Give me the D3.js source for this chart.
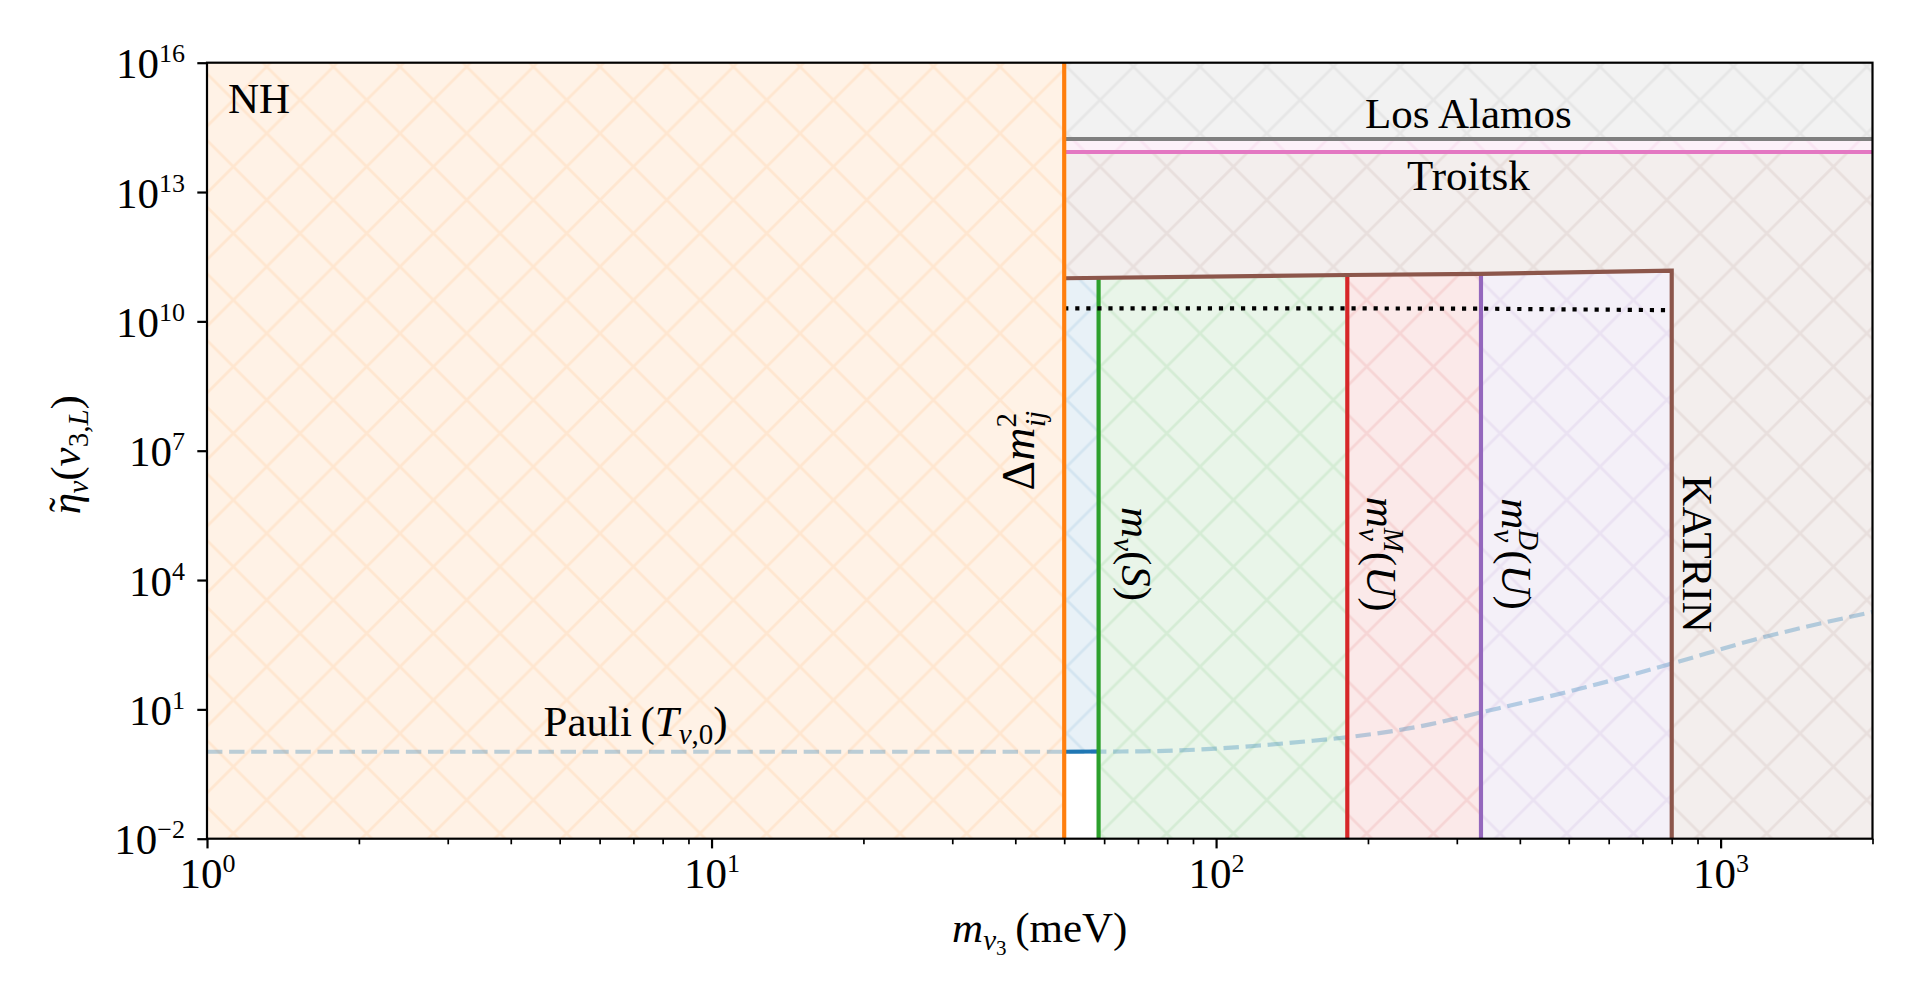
<!DOCTYPE html>
<html>
<head>
<meta charset="utf-8">
<script src="https://cdn.jsdelivr.net/npm/d3@7"></script>
<style>
  body { margin: 0; background: #fff; }
  svg { display: block; }
  text { font-family: "Liberation Serif", "DejaVu Serif", serif; fill: #000; }
</style>
</head>
<body>
<svg id="chart" width="1920" height="1001"></svg>
<script>
// axis ranges
const xDomain = [1, 2000];
const yDomain = [1e-2, 1e16];

// vertical bounds on m_nu3 (meV)
const massOsc = 50;      // Δm²_ij
const massS = 58.5;      // m_ν(S)
const massMU = 182;      // m_ν^M(U)
const massDU = 335;      // m_ν^D(U)
const massKATRIN = 800;

// KATRIN upper edge (brown)
const katrinMass = [50, 182, 335, 800];
const katrinEta = [1.0e11, 1.19e11, 1.26e11, 1.5e11];

// dotted line
const dottedMass = [50, 182, 335, 780];
const dottedEta = [2.0e10, 2.0e10, 1.97e10, 1.82e10];

// horizontal bounds
const losAlamosEta = 1.7e14;
const troitskEta = 8.5e13;

// Pauli (T_nu,0) curve
const pauliMass = [1, 10, 30, 50, 74, 100, 122, 150, 181, 258, 335, 548, 804, 1161, 2000];
const pauliEta = [1.04, 1.04, 1.04, 1.04, 1.07, 1.23, 1.45, 1.8, 2.24, 4.2, 8.5, 34, 117, 407, 1820];

// ticks
const xTicks = [1, 10, 100, 1000];
const xTickExp = ['0', '1', '2', '3'];
const xMinor = [2, 3, 4, 5, 6, 7, 8, 9, 20, 30, 40, 50, 60, 70, 80, 90, 200, 300, 400, 500, 600, 700, 800, 900, 2000];
const yTicks = [1e-2, 1e1, 1e4, 1e7, 1e10, 1e13, 1e16];
const yTickExp = ['\u22122', '1', '4', '7', '10', '13', '16'];

const C = {
  blue: '#1f77b4', orange: '#ff7f0e', green: '#2ca02c', red: '#d62728',
  purple: '#9467bd', brown: '#8c564b', pink: '#e377c2', gray: '#7f7f7f'
};
const FS = 43, SUB = 29, SUB2 = 21, LW = 4.17;
const L = 207, R = 1872.5, T = 62.7, B = 838.7;

const svg = d3.select('#chart');
const x = d3.scaleLog().domain(xDomain).range([L, R]);
const y = d3.scaleLog().domain(yDomain).range([B, T]);

function interpLog(xs, ys, v) {
  const lv = Math.log10(v);
  for (let i = 0; i < xs.length - 1; i++) {
    const a = Math.log10(xs[i]), b = Math.log10(xs[i + 1]);
    if (lv >= a && lv <= b) {
      const t = (lv - a) / (b - a);
      return Math.pow(10, Math.log10(ys[i]) + t * (Math.log10(ys[i + 1]) - Math.log10(ys[i])));
    }
  }
  return lv < Math.log10(xs[0]) ? ys[0] : ys[ys.length - 1];
}
const katrinTop = m => interpLog(katrinMass, katrinEta, m);
const pauli = m => interpLog(pauliMass, pauliEta, m);
const topEdge = (a, b) => [a, ...katrinMass.filter(m => m > a && m < b), b].map(m => [m, katrinTop(m)]);

const line = d3.line().x(d => x(d[0])).y(d => y(d[1]));

// hatch patterns ('x'), anchored at the page origin
const defs = svg.append('defs');
defs.append('clipPath').attr('id', 'plotclip')
  .append('rect').attr('x', L).attr('y', T).attr('width', R - L).attr('height', B - T);
const s = 66.67, h = s / 2;
function hatch(id, color) {
  defs.append('pattern').attr('id', id)
    .attr('patternUnits', 'userSpaceOnUse').attr('width', s).attr('height', s)
    .append('path')
    .attr('d', `M0,0L${s},${s}M${-h},${h}L${h},${s + h}M${h},${-h}L${s + h},${h}` +
               `M0,${s}L${s},0M${-h},${h}L${h},${-h}M${h},${s + h}L${s + h},${h}`)
    .attr('fill', 'none').attr('stroke', color).attr('stroke-opacity', 0.1).attr('stroke-width', 2.8);
}

const plot = svg.append('g').attr('clip-path', 'url(#plotclip)');
const gReg = plot.append('g');

function region(points, color, name) {
  hatch('h-' + name, color);
  const d = line(points) + 'Z';
  gReg.append('path').attr('d', d).attr('fill', color).attr('fill-opacity', 0.1);
  gReg.append('path').attr('d', d).attr('fill', `url(#h-${name})`);
}

const [yLo, yHi] = yDomain;
const [xLo, xHi] = xDomain;

region([[xLo, yLo], [xLo, yHi], [massOsc, yHi], [massOsc, yLo]], C.orange, 'orange');
region([[massOsc, pauli(massOsc)], ...topEdge(massOsc, massS), [massS, pauli(massS)]], C.blue, 'blue');
region([[massS, yLo], ...topEdge(massS, massMU), [massMU, yLo]], C.green, 'green');
region([[massMU, yLo], ...topEdge(massMU, massDU), [massDU, yLo]], C.red, 'red');
region([[massDU, yLo], ...topEdge(massDU, massKATRIN), [massKATRIN, yLo]], C.purple, 'purple');
region([...topEdge(massOsc, massKATRIN), [massKATRIN, yLo], [xHi, yLo], [xHi, troitskEta], [massOsc, troitskEta]], C.brown, 'brown');
region([[massOsc, troitskEta], [xHi, troitskEta], [xHi, losAlamosEta], [massOsc, losAlamosEta]], C.pink, 'pink');
region([[massOsc, losAlamosEta], [xHi, losAlamosEta], [xHi, yHi], [massOsc, yHi]], C.gray, 'gray');

function draw(points, color, extra) {
  const p = plot.append('path').attr('d', line(points)).attr('fill', 'none')
    .attr('stroke', color).attr('stroke-width', LW);
  if (extra) extra(p);
  return p;
}

// Pauli curve
plot.append('path')
  .attr('d', d3.line().x(d => x(d[0])).y(d => y(d[1])).curve(d3.curveMonotoneX)(pauliMass.map((m, i) => [m, pauliEta[i]])))
  .attr('fill', 'none').attr('stroke', C.blue).attr('stroke-opacity', 0.3)
  .attr('stroke-width', LW).attr('stroke-dasharray', '15.4,6.7');

draw([[massOsc, pauli(massOsc)], [massS, pauli(massS)]], C.blue);
draw([[massS, yLo], [massS, katrinTop(massS)]], C.green);
draw([[massMU, yLo], [massMU, katrinTop(massMU)]], C.red);
draw([[massDU, yLo], [massDU, katrinTop(massDU)]], C.purple);
draw([...katrinMass.map((m, i) => [m, katrinEta[i]]), [massKATRIN, yLo]], C.brown);
draw(dottedMass.map((m, i) => [m, dottedEta[i]]), '#000', p => p.attr('stroke-dasharray', '4.17,6.88'));
draw([[massOsc, losAlamosEta], [xHi, losAlamosEta]], C.gray);
draw([[massOsc, troitskEta], [xHi, troitskEta]], C.pink);
draw([[massOsc, yLo], [massOsc, yHi]], C.orange);

// math-ish text helper: parts = [text, {it, fs, dx, dy}]
function mathText(g, parts) {
  parts.forEach(([t, o = {}]) => {
    const ts = g.append('tspan').text(t).attr('font-size', o.fs || FS);
    if (o.it) ts.attr('font-style', 'italic');
    if (o.dx) ts.attr('dx', o.dx);
    if (o.dy) ts.attr('dy', o.dy);
  });
  return g;
}

const labels = svg.append('g');

labels.append('text').attr('x', x(xLo) + 21).attr('y', y(yHi) + 50).attr('font-size', FS).text('NH');

const xMid = Math.sqrt(massOsc * xHi);
labels.append('text').attr('x', x(xMid)).attr('y', y(losAlamosEta) - 11)
  .attr('text-anchor', 'middle').attr('font-size', FS).text('Los Alamos');
labels.append('text').attr('x', x(xMid)).attr('y', y(troitskEta) + 38)
  .attr('text-anchor', 'middle').attr('font-size', FS).text('Troitsk');

mathText(labels.append('text').attr('x', x(Math.sqrt(xLo * massOsc))).attr('y', y(pauli(xLo)) - 16)
  .attr('text-anchor', 'middle'),
  [['Pauli\u2009('], ['T', {it: 1}], ['\u03bd', {it: 1, fs: SUB, dy: 8}], [',0', {fs: SUB}], [')', {dy: -8}]]);

const yLab = y(4e4);
mathText(labels.append('text').attr('text-anchor', 'middle')
  .attr('transform', `translate(${x(massOsc) - 30},${y(1e7)}) rotate(-90)`),
  [['\u0394', {fs: 46}], ['m', {it: 1, fs: 46}], ['2', {fs: SUB, dy: -18}], ['ij', {it: 1, fs: SUB, dx: -14, dy: 29}]]);

mathText(labels.append('text').attr('text-anchor', 'middle')
  .attr('transform', `translate(${x(massS) + 23},${yLab}) rotate(90)`),
  [['m', {it: 1}], ['\u03bd', {it: 1, fs: SUB, dy: 8}], ['(', {dy: -8}], ['S', {it: 1}], [')']]);

mathText(labels.append('text').attr('text-anchor', 'middle')
  .attr('transform', `translate(${x(massMU) + 20},${yLab}) rotate(90)`),
  [['m', {it: 1}], ['M', {it: 1, fs: SUB, dy: -17}], ['\u03bd', {it: 1, fs: SUB, dx: -24, dy: 25}],
   ['(', {dx: 11, dy: -8}], ['U', {it: 1}], [')']]);

mathText(labels.append('text').attr('text-anchor', 'middle')
  .attr('transform', `translate(${x(massDU) + 21},${yLab}) rotate(90)`),
  [['m', {it: 1}], ['D', {it: 1, fs: SUB, dy: -17}], ['\u03bd', {it: 1, fs: SUB, dx: -21, dy: 25}],
   ['(', {dx: 8, dy: -8}], ['U', {it: 1}], [')']]);

labels.append('text').attr('text-anchor', 'middle').attr('font-size', FS)
  .attr('transform', `translate(${x(massKATRIN) + 11},${yLab}) rotate(90)`).text('KATRIN');

// axis titles
mathText(svg.append('text').attr('x', (L + R) / 2).attr('y', 942).attr('text-anchor', 'middle'),
  [['m', {it: 1}], ['\u03bd', {it: 1, fs: SUB, dy: 8}], ['3', {fs: SUB2, dy: 5}], ['\u2009(meV)', {dy: -13}]]);

mathText(svg.append('text').attr('text-anchor', 'middle')
  .attr('transform', `translate(80,${(T + B) / 2 + 4}) rotate(-90)`),
  [['\u03b7', {it: 1}], ['\u02dc', {dx: -19, dy: -2}], ['\u03bd', {it: 1, fs: SUB, dx: 4, dy: 10}],
   ['(', {dy: -8}], ['\u03bd', {it: 1}],
   ['3,', {fs: SUB, dy: 8}], ['L', {it: 1, fs: SUB}], [')', {dy: -8}]]);

// axes
function styleAxis(g) {
  g.attr('font-family', null).attr('font-size', null);
  g.select('.domain').remove();
}
const gx = svg.append('g').attr('transform', `translate(0,${B})`)
  .call(d3.axisBottom(x).tickValues(xTicks).tickSize(9.7).tickSizeOuter(0));
styleAxis(gx);
gx.selectAll('.tick line').attr('stroke-width', 2.2);
gx.selectAll('.tick text').each(function (d, i) {
  const t = d3.select(this).text(null).attr('dy', null).attr('y', 49.3);
  t.append('tspan').attr('font-size', FS).text('10');
  t.append('tspan').attr('font-size', 26).attr('dy', -16).text(xTickExp[i]);
});
const gxm = svg.append('g').attr('transform', `translate(0,${B})`)
  .call(d3.axisBottom(x).tickValues(xMinor).tickSize(5.6).tickSizeOuter(0).tickFormat(() => ''));
styleAxis(gxm);
gxm.selectAll('.tick line').attr('stroke-width', 1.7);

const gy = svg.append('g').attr('transform', `translate(${L},0)`)
  .call(d3.axisLeft(y).tickValues(yTicks).tickSize(9.7).tickSizeOuter(0));
styleAxis(gy);
gy.selectAll('.tick line').attr('stroke-width', 2.2);
gy.selectAll('.tick text').each(function (d, i) {
  const t = d3.select(this).text(null).attr('dy', null).attr('y', 15).attr('x', -22);
  t.append('tspan').attr('font-size', FS).text('10');
  t.append('tspan').attr('font-size', 26).attr('dy', -16).text(yTickExp[i]);
});

// frame
svg.append('rect').attr('x', L).attr('y', T).attr('width', R - L).attr('height', B - T)
  .attr('fill', 'none').attr('stroke', '#000').attr('stroke-width', 2.2);
</script>
</body>
</html>
